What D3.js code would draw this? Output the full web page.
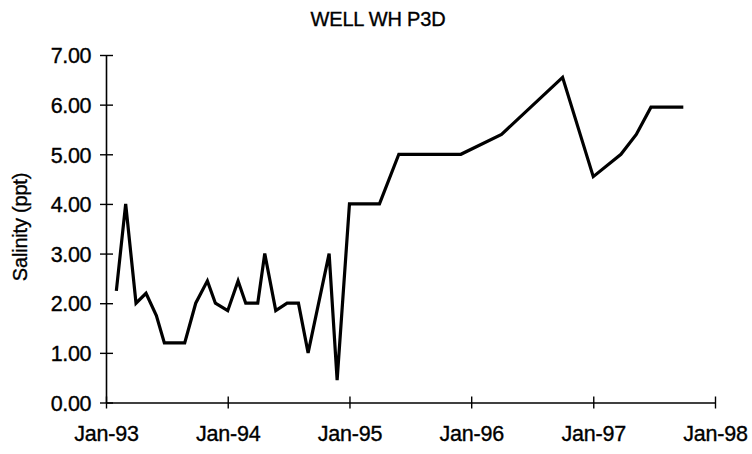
<!DOCTYPE html>
<html>
<head>
<meta charset="utf-8">
<script src="https://cdn.jsdelivr.net/npm/d3@7"></script>
<style>
  html, body { margin: 0; padding: 0; background: #fff; }
  svg { display: block; }
  text { font-family: "Liberation Sans", Arial, sans-serif; fill: #000; stroke: #000; stroke-width: 0.35px; }
</style>
</head>
<body>
<script>
// Salinity readings for well WH P3D
const sampleDates = [
  "1993-02-01", "1993-03-01", "1993-04-01", "1993-05-01", "1993-06-01",
  "1993-06-25", "1993-08-25", "1993-09-27", "1993-11-01", "1993-11-25",
  "1994-01-01", "1994-02-01", "1994-02-24", "1994-04-01", "1994-04-22",
  "1994-05-25", "1994-06-28", "1994-08-01", "1994-08-30", "1994-11-01",
  "1994-11-25", "1995-01-01", "1995-04-01", "1995-05-29", "1995-12-01",
  "1996-04-01", "1996-10-01", "1997-01-01", "1997-03-25", "1997-05-10",
  "1997-06-23", "1997-09-28"
];
const salinity = [
  2.25, 4.00, 2.00, 2.20, 1.75,
  1.20, 1.20, 2.00, 2.45, 2.00,
  1.85, 2.45, 2.00, 2.00, 3.00,
  1.85, 2.00, 2.00, 1.00, 3.00,
  0.45, 4.00, 4.00, 5.00, 5.00,
  5.40, 6.55, 4.55, 5.00, 5.40,
  5.95, 5.95
];
const yTicks = [0, 1, 2, 3, 4, 5, 6, 7];
const xTickDates = ["1993-01-01", "1994-01-01", "1995-01-01", "1996-01-01", "1997-01-01", "1998-01-01"];
const titleText = "WELL WH P3D";
const yLabel = "Salinity (ppt)";

const W = 752, H = 454;
const parse = d3.timeParse("%Y-%m-%d");
const data = sampleDates.map((d, i) => ({ date: parse(d), value: salinity[i] }));

const svg = d3.select("body").append("svg").attr("width", W).attr("height", H);

const x = d3.scaleTime()
  .domain([parse("1993-01-01"), parse("1998-01-01")])
  .range([106, 715]);
const y = d3.scaleLinear().domain([0, 7]).range([402.5, 55]);

// title
svg.append("text")
  .attr("x", 378).attr("y", 26)
  .attr("text-anchor", "middle")
  .style("font-size", "20px")
  .style("letter-spacing", "-0.2px")
  .text(titleText);

// y axis
const yAxis = svg.append("g").attr("transform", `translate(${x.range()[0]},0)`)
  .call(d3.axisLeft(y).tickValues(yTicks).tickFormat(d3.format(".2f")).tickSize(0).tickPadding(15));
yAxis.select(".domain").attr("stroke", "#000").attr("stroke-width", 1.6);
yAxis.selectAll(".tick text")
  .style("font-size", "21.5px")
  .attr("dy", "0.36em")
  .style("letter-spacing", "-0.4px");
yAxis.selectAll(".tick").append("line")
  .attr("x1", -6).attr("x2", 7)
  .attr("stroke", "#000").attr("stroke-width", 1.4);

// x axis
const xAxis = svg.append("g").attr("transform", `translate(0,${y(0)})`)
  .call(d3.axisBottom(x).tickValues(xTickDates.map(parse)).tickFormat(d3.timeFormat("%b-%y")).tickSize(0).tickPadding(23));
xAxis.select(".domain").attr("stroke", "#000").attr("stroke-width", 1.6);
xAxis.selectAll(".tick text")
  .style("font-size", "21.5px")
  .style("letter-spacing", "-0.2px");
xAxis.selectAll(".tick").append("line")
  .attr("y1", -6).attr("y2", 6)
  .attr("stroke", "#000").attr("stroke-width", 1.4);

// y axis title
svg.append("text")
  .attr("transform", `translate(27,227) rotate(-90)`)
  .attr("text-anchor", "middle")
  .style("font-size", "20px")
  .style("letter-spacing", "-0.2px")
  .text(yLabel);

// salinity line
const line = d3.line().x(d => x(d.date)).y(d => y(d.value));
svg.append("path")
  .datum(data)
  .attr("d", line)
  .attr("fill", "none")
  .attr("stroke", "#000")
  .attr("stroke-width", 3.2)
  .attr("stroke-linejoin", "miter");
</script>
</body>
</html>
